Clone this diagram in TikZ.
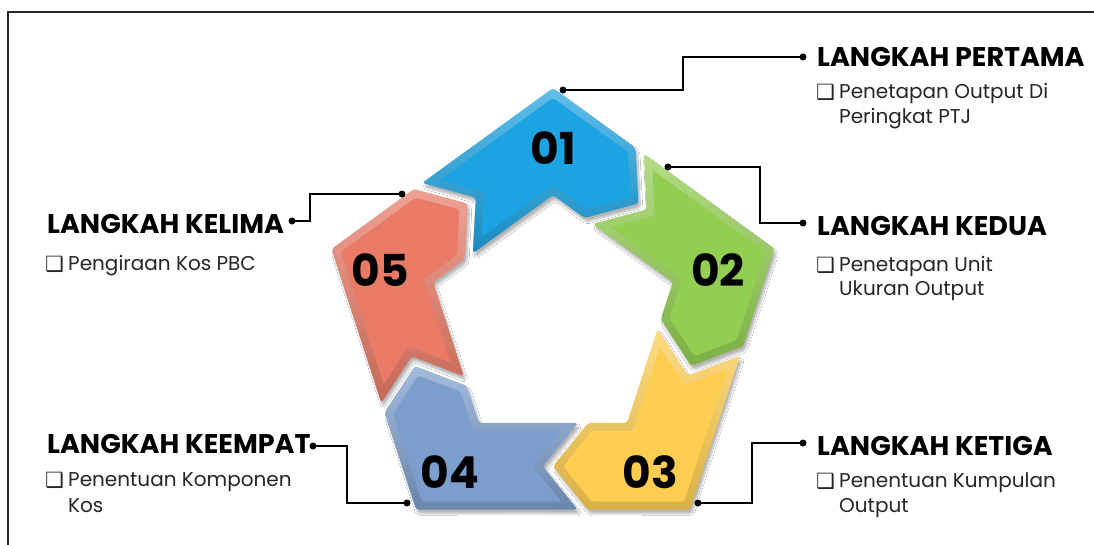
\documentclass[tikz,border=0pt]{standalone}
\usepackage{fontspec}
\setmainfont{Poppins}
\newfontfamily\symfont{DejaVu Sans}
\usetikzlibrary{shadows.blur}
\definecolor{cA}{RGB}{28,163,226}
\definecolor{cB}{RGB}{146,206,80}
\definecolor{cC}{RGB}{255,206,80}
\definecolor{cD}{RGB}{124,158,204}
\definecolor{cE}{RGB}{232,122,102}
\definecolor{bodygray}{RGB}{38,38,38}
\newcommand{\bx}{\makebox[23pt][l]{\raisebox{-1pt}{\fontsize{21}{21}\symfont\char"2751}}}
\newcommand{\pentapiece}[2]{%
  \shade[blur shadow={shadow xshift=2pt,shadow yshift=-4pt,shadow blur steps=8,shadow opacity=30},
    rounded corners=3pt, top color=#2!70!white, bottom color=#2!85!black]
    ({133.5-72*#1}:190.3) -- ({90-72*#1}:233) -- ({64.5-72*#1}:191.8) -- ({54-72*#1}:145.3)
    -- ({73-72*#1}:107.8) -- ({90-72*#1}:126) -- ({139.8-72*#1}:104.9) -- ({122-72*#1}:145.6) -- cycle;
  \fill[#2, rounded corners=2pt]
    ({128.6-72*#1}:180.8) -- ({90-72*#1}:223.1) -- ({66.1-72*#1}:184.7) -- ({58-72*#1}:145.7)
    -- ({73.4-72*#1}:116.5) -- ({90-72*#1}:135.9) -- ({130.2-72*#1}:110.2) -- ({118-72*#1}:146.7) -- cycle;
}
\tikzset{
  num/.style={font=\fontsize{44}{44}\selectfont\bfseries, text=black, inner sep=0pt},
  head/.style={font=\fontsize{27}{30}\selectfont\bfseries, text=black, inner sep=0pt, anchor=base west},
  body/.style={font=\fontsize{20}{22}\selectfont, text=bodygray, inner sep=0pt, anchor=base west},
  conn/.style={line width=2pt, black},
  dot/.style={fill=black},
  frame/.style={line width=2pt, black!85}
}
\begin{document}
\begin{tikzpicture}[x=1pt,y=1pt]
\useasboundingbox (0,0) rectangle (1094,-544);
\fill[white] (0,0) rectangle (1094,-544);
\draw[frame] (8,-560) -- (8,-12) -- (1110,-12);

\begin{scope}[shift={(553,-321)}]
  \pentapiece{0}{cA}
  \pentapiece{1}{cB}
  \pentapiece{2}{cC}
  \pentapiece{3}{cD}
  \pentapiece{4}{cE}
\end{scope}

\node[num] (n1) at (553,-148) {01};
\node[num] (n2) at (718,-270) {02};
\node[num] (n3) at (650,-472) {03};
\node[num] (n4) at (450,-472) {04};
\node[num] (n5) at (380,-270) {05};

% headings
\node[head] (h1) at (817,-66) {LANGKAH PERTAMA};
\node[head] (h2) at (817,-235) {LANGKAH KEDUA};
\node[head] (h3) at (817,-455) {LANGKAH KETIGA};
\node[head] (h4) at (47,-453) {LANGKAH KEEMPAT};
\node[head] (h5) at (47,-233) {LANGKAH KELIMA};

% bodies
\node[body] (b1a) at (816,-98) {\bx Penetapan Output Di};
\node[body] (b1b) at (839,-123) {Peringkat PTJ};
\node[body] (b2a) at (816,-271) {\bx Penetapan Unit};
\node[body] (b2b) at (839,-295) {Ukuran Output};
\node[body] (b3a) at (816,-487) {\bx Penentuan Kumpulan};
\node[body] (b3b) at (839,-512) {Output};
\node[body] (b4a) at (45,-486) {\bx Penentuan Komponen};
\node[body] (b4b) at (68,-512) {Kos};
\node[body] (b5a) at (45,-270) {\bx Pengiraan Kos PBC};

% connector coordinates
\coordinate (p1) at (563,-90);  \coordinate (k1) at (683,-57);  \coordinate (d1) at (803,-57);
\coordinate (p2) at (668,-167); \coordinate (k2) at (760,-223); \coordinate (d2) at (803,-223);
\coordinate (p3) at (698,-503); \coordinate (k3) at (752,-443); \coordinate (d3) at (803,-443);
\coordinate (p4) at (407,-503); \coordinate (k4) at (347,-446); \coordinate (d4) at (313,-446);
\coordinate (p5) at (402,-194); \coordinate (k5) at (310,-221); \coordinate (d5) at (292,-221);

\foreach \i in {1,...,5}{
  \draw[conn] (p\i) -| (k\i) -- (d\i);
  \fill[dot] (p\i) circle (3.5);
  \fill[dot] (d\i) circle (3.5);
}
\end{tikzpicture}
\end{document}
